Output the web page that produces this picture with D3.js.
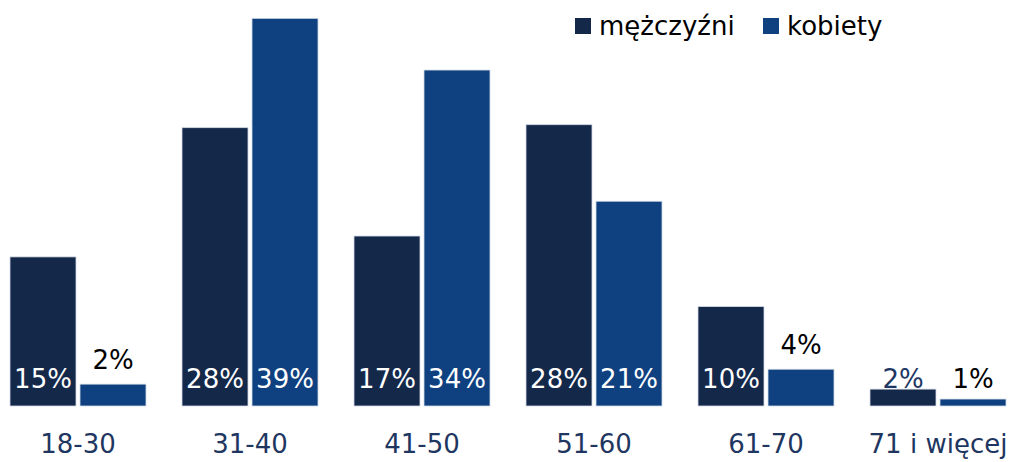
<!DOCTYPE html>
<html>
<head>
<meta charset="utf-8">
<script src="https://cdn.jsdelivr.net/npm/d3@7"></script>
<style>
  body { margin: 0; background: #fff; }
  svg { display: block; }
</style>
</head>
<body>
<svg width="1013" height="462"></svg>
<script>
var categories = ["18-30", "31-40", "41-50", "51-60", "61-70", "71 i więcej"];
var seriesNames = ["mężczyźni", "kobiety"];
var men = [15.0, 28.0, 17.1, 28.3, 10.0, 1.7];
var women = [2.2, 39.0, 33.8, 20.6, 3.7, 0.7];

var colors = ["#14284a", "#0f4181"];

var svg = d3.select("svg"),
  width = +svg.attr("width"),
  height = +svg.attr("height"),
  baseY = 406,
  labelBase = 388;

var rows = categories.map(function (c, i) {
  return { cat: c, values: [men[i], women[i]] };
});

var x0 = d3.scaleBand()
  .domain(categories)
  .range([-8, 1024])
  .paddingInner(36 / 172)
  .paddingOuter(18 / 172);

var x1 = d3.scaleBand()
  .domain(seriesNames)
  .range([0, x0.bandwidth()])
  .paddingInner(4 / 70);

var y = d3.scaleLinear()
  .domain([0, 40])
  .range([baseY, baseY - 40 * 9.94]);

var groups = svg.selectAll(".grp")
  .data(rows)
  .enter()
  .append("g")
  .attr("class", "grp")
  .attr("transform", function (d) { return "translate(" + x0(d.cat) + ",0)"; });

var cells = groups.selectAll(".cell")
  .data(function (d) {
    return d.values.map(function (v, j) { return { s: seriesNames[j], j: j, v: v }; });
  })
  .enter()
  .append("g")
  .attr("class", "cell");

cells.append("rect")
  .attr("x", function (d) { return x1(d.s); })
  .attr("y", function (d) { return y(d.v); })
  .attr("width", x1.bandwidth())
  .attr("height", function (d) { return baseY - y(d.v); })
  .attr("fill", function (d) { return colors[d.j]; })
  .attr("stroke", "#d3d9e4")
  .attr("stroke-width", 0.8);

cells.append("text")
  .attr("x", function (d) { return x1(d.s) + x1.bandwidth() / 2; })
  .attr("y", function (d) {
    if (d.v >= 5) return labelBase;
    var top = y(d.v);
    return top < labelBase ? top - 15 : labelBase;
  })
  .attr("text-anchor", "middle")
  .attr("font-family", "DejaVu Sans, sans-serif")
  .style("font-size", "26px")
  .style("fill", function (d) {
    if (d.v >= 5) return "#ffffff";
    return d.j === 0 ? "#1e3763" : "#000000";
  })
  .text(function (d) { return Math.round(d.v) + "%"; });

// category labels
svg.selectAll(".cat")
  .data(categories)
  .enter()
  .append("text")
  .attr("class", "cat")
  .attr("x", function (d) { return x0(d) + x0.bandwidth() / 2; })
  .attr("y", 453)
  .attr("text-anchor", "middle")
  .attr("font-family", "DejaVu Sans, sans-serif")
  .style("font-size", "26px")
  .style("fill", "#1e3660")
  .text(function (d) { return d; });

// legend
var legX = [575, 763];
var leg = svg.selectAll(".leg")
  .data(seriesNames)
  .enter()
  .append("g")
  .attr("class", "leg")
  .attr("transform", function (d, i) { return "translate(" + legX[i] + ",18)"; });

leg.append("rect")
  .attr("width", 16)
  .attr("height", 16)
  .attr("fill", function (d, i) { return colors[i]; });

leg.append("text")
  .attr("x", 24)
  .attr("y", 17)
  .attr("font-family", "DejaVu Sans, sans-serif")
  .style("font-size", "26px")
  .style("fill", "#000")
  .text(function (d) { return d; });
</script>
</body>
</html>
